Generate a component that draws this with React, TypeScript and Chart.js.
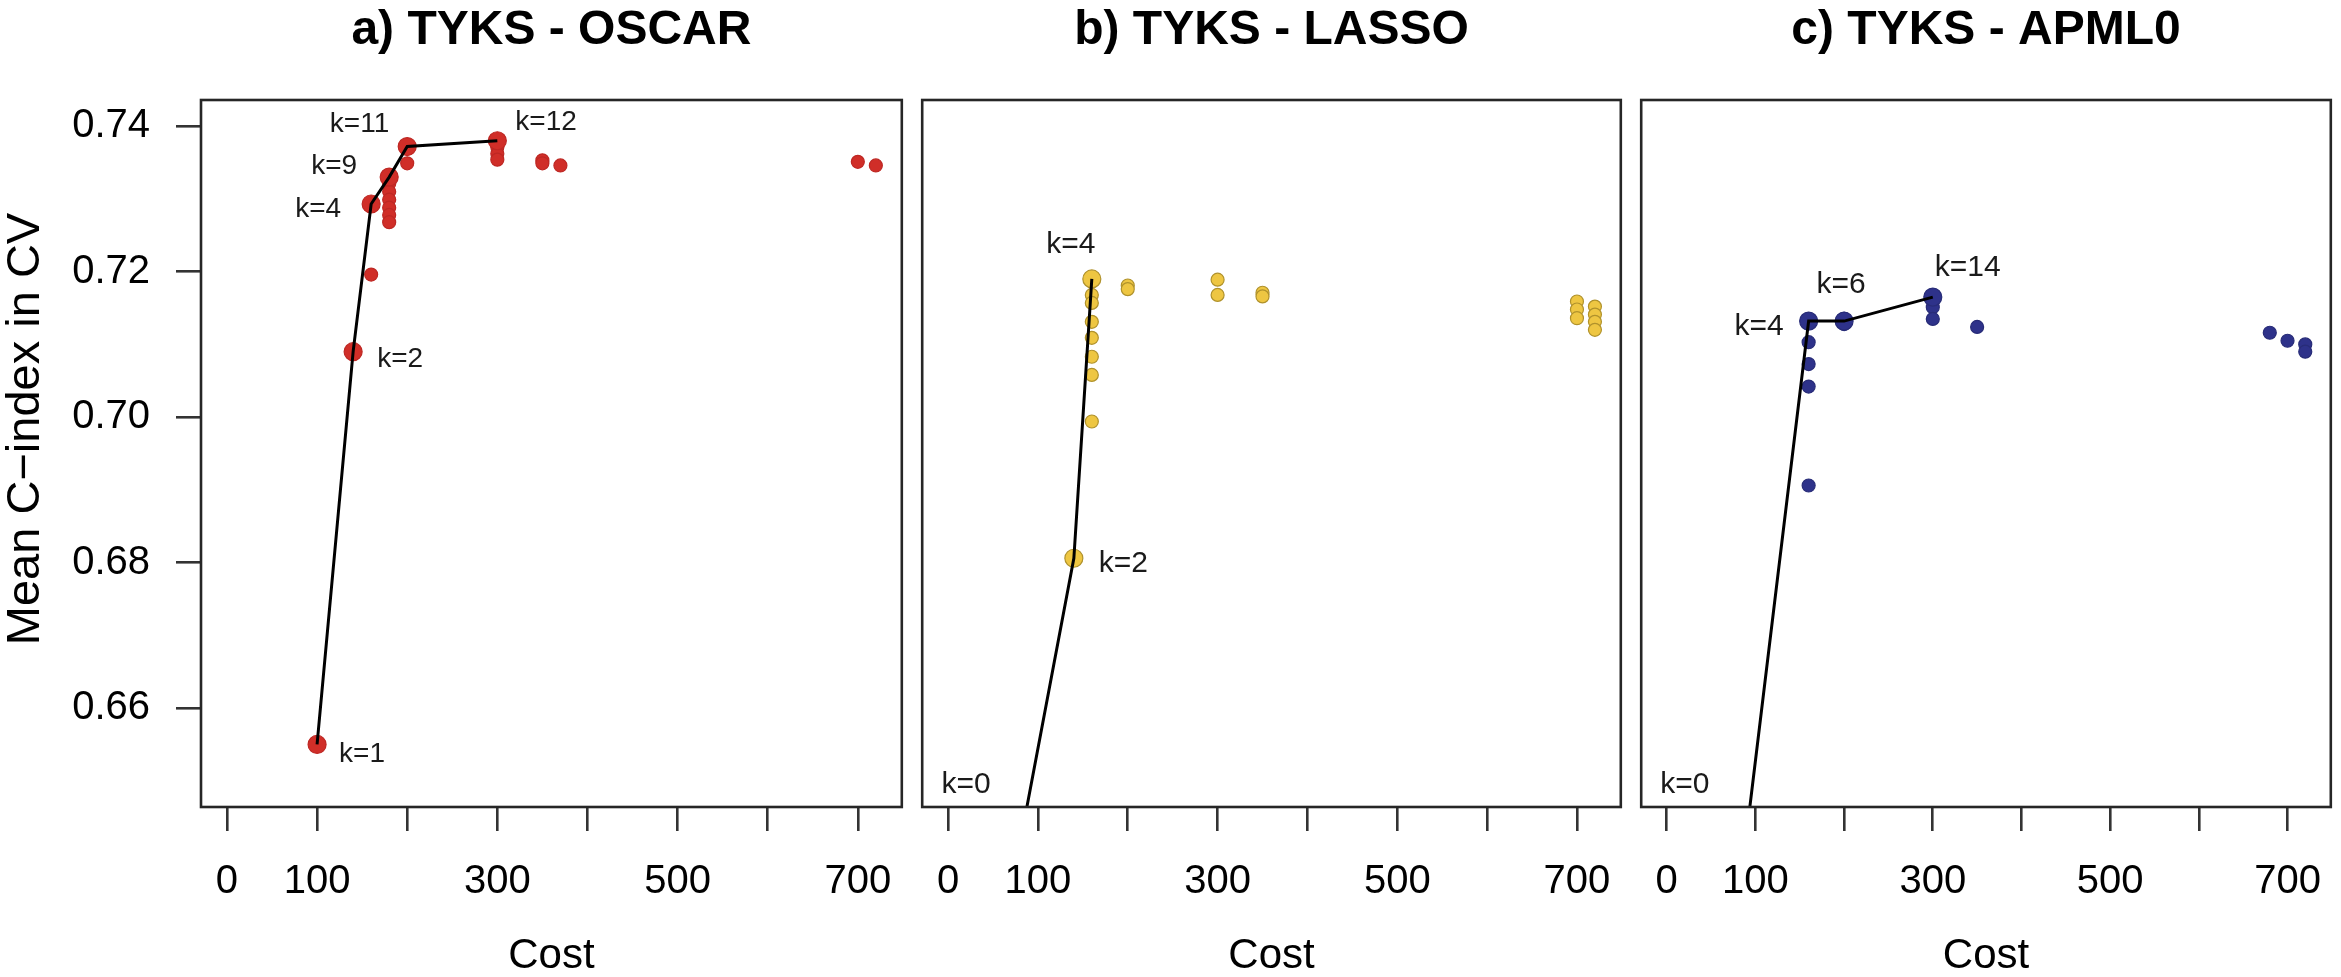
import React, { useEffect, useRef } from 'react';
import { Chart, registerables } from 'chart.js';

Chart.register(...registerables);

// ---------- data ----------
const panelTitles = ['a) TYKS - OSCAR', 'b) TYKS - LASSO', 'c) TYKS - APML0'];
const xTitle = 'Cost';
const yTitle = 'Mean C\u2212index in CV';

const xTickValues = [0, 100, 200, 300, 400, 500, 600, 700];
const xTickLabels = ['0', '100', '', '300', '', '500', '', '700'];
const yTickValues = [0.66, 0.68, 0.7, 0.72, 0.74];

// axis limits: R's 4% extension of x in [0, 720], y in [0.65, 0.74]
const xLimits = [-28.8, 748.8];
const yLimits = [0.6464, 0.7436];

// a) OSCAR
const oscarCost = [100, 140, 160, 160, 180, 180, 180, 180, 180, 180, 180, 200, 200, 300, 300, 300, 300, 350, 350, 370, 700, 720];
const oscarCindex = [0.655, 0.709, 0.7293, 0.7196, 0.733, 0.7321, 0.731, 0.7299, 0.7288, 0.7278, 0.7268, 0.7372, 0.7349, 0.738, 0.7371, 0.7362, 0.7354, 0.7353, 0.7349, 0.7346, 0.7351, 0.7346];
const oscarParetoCost = [100, 140, 160, 180, 200, 300];
const oscarParetoCindex = [0.655, 0.709, 0.7293, 0.733, 0.7372, 0.738];
const oscarLabels = ['k=1', 'k=2', 'k=4', 'k=9', 'k=11', 'k=12'];
const oscarLabelCost = [100, 140, 160, 180, 200, 300];
const oscarLabelCindex = [0.655, 0.709, 0.7293, 0.733, 0.7372, 0.738];

// b) LASSO
const lassoCost = [140, 160, 160, 160, 160, 160, 160, 160, 160, 200, 200, 300, 300, 350, 350, 700, 700, 700, 720, 720, 720, 720];
const lassoCindex = [0.6806, 0.719, 0.7168, 0.7157, 0.7131, 0.7109, 0.7083, 0.7058, 0.6994, 0.7181, 0.7176, 0.7189, 0.7168, 0.7171, 0.7166, 0.7159, 0.7148, 0.7136, 0.7152, 0.7141, 0.7131, 0.712];
const lassoParetoCost = [0, 140, 160];
const lassoParetoCindex = [0.589, 0.6806, 0.719];
const lassoLabels = ['k=0', 'k=2', 'k=4'];
const lassoLabelCost = [0, 140, 160];
const lassoLabelCindex = [0.65, 0.6806, 0.719];

// c) APML0
const apmlCost = [160, 160, 160, 160, 160, 200, 200, 300, 300, 300, 350, 680, 700, 720, 720];
const apmlCindex = [0.7132, 0.7103, 0.7073, 0.7042, 0.6906, 0.7135, 0.7128, 0.7165, 0.7151, 0.7135, 0.7124, 0.7116, 0.7105, 0.71, 0.709];
const apmlParetoCost = [0, 160, 200, 300];
const apmlParetoCindex = [0.552, 0.7132, 0.7132, 0.7165];
const apmlLabels = ['k=0', 'k=4', 'k=6', 'k=14'];
const apmlLabelCost = [0, 160, 200, 300];
const apmlLabelCindex = [0.65, 0.7132, 0.7132, 0.7165];

// ---------- styles / layout ----------
const FONT = "'Liberation Sans', Arial, Helvetica, sans-serif";
const H = 977;

type Place = { align: CanvasTextAlign; dx: number; dy: number };

const oscarPlace: Place[] = [
  { align: 'left', dx: 22, dy: 10 },
  { align: 'left', dx: 24, dy: 8 },
  { align: 'right', dx: -30, dy: 5 },
  { align: 'right', dx: -32, dy: -11 },
  { align: 'right', dx: -18, dy: -22 },
  { align: 'left', dx: 18, dy: -18 },
];
const lassoPlace: Place[] = [
  { align: 'center', dx: 18, dy: 4 },
  { align: 'left', dx: 25, dy: 5 },
  { align: 'center', dx: -21, dy: -34 },
];
const apmlPlace: Place[] = [
  { align: 'center', dx: 18, dy: 4 },
  { align: 'right', dx: -25, dy: 6 },
  { align: 'center', dx: -3, dy: -36 },
  { align: 'center', dx: 35, dy: -29 },
];

type Panel = {
  title: string;
  cost: number[];
  cindex: number[];
  pCost: number[];
  pCindex: number[];
  labels: string[];
  lCost: number[];
  lCindex: number[];
  place: Place[];
  fill: string;
  border: string;
  labelSize: number;
  showY: boolean;
  left: number;
  width: number;
  padL: number;
  padR: number;
};

const panels: Panel[] = [
  {
    title: panelTitles[0], cost: oscarCost, cindex: oscarCindex, pCost: oscarParetoCost, pCindex: oscarParetoCindex,
    labels: oscarLabels, lCost: oscarLabelCost, lCindex: oscarLabelCindex, place: oscarPlace,
    fill: 'rgb(208,46,40)', border: 'rgb(190,40,36)', labelSize: 28, showY: true,
    left: 0, width: 912, padL: 0, padR: 5,
  },
  {
    title: panelTitles[1], cost: lassoCost, cindex: lassoCindex, pCost: lassoParetoCost, pCindex: lassoParetoCindex,
    labels: lassoLabels, lCost: lassoLabelCost, lCindex: lassoLabelCindex, place: lassoPlace,
    fill: 'rgb(238,198,66)', border: 'rgb(176,146,44)', labelSize: 30, showY: false,
    left: 912, width: 719, padL: 6.4, padR: 5.4,
  },
  {
    title: panelTitles[2], cost: apmlCost, cindex: apmlCindex, pCost: apmlParetoCost, pCindex: apmlParetoCindex,
    labels: apmlLabels, lCost: apmlLabelCost, lCindex: apmlLabelCindex, place: apmlPlace,
    fill: 'rgb(46,50,138)', border: 'rgb(40,44,120)', labelSize: 30, showY: false,
    left: 1631, width: 710, padL: 5.7, padR: 0.5,
  },
];

function PanelChart({ p }: { p: Panel }) {
  const ref = useRef<HTMLCanvasElement | null>(null);
  useEffect(() => {
    if (!ref.current) return;
    const small = p.cost.map((c, i) => ({ x: c, y: p.cindex[i] }));
    const path = p.pCost.map((c, i) => ({ x: c, y: p.pCindex[i] }));
    const deco = {
      id: 'deco' + p.title,
      afterDatasetsDraw(chart: any) {
        const { ctx, chartArea: a, scales } = chart;
        ctx.save();
        ctx.strokeStyle = '#262626';
        ctx.lineWidth = 2.6;
        ctx.strokeRect(a.left, a.top, a.right - a.left, a.bottom - a.top);
        ctx.fillStyle = '#1a1a1a';
        ctx.font = `${p.labelSize}px ${FONT}`;
        ctx.textBaseline = 'middle';
        p.labels.forEach((t, i) => {
          const pl = p.place[i];
          const px = scales.x.getPixelForValue(p.lCost[i]);
          const py = scales.y.getPixelForValue(p.lCindex[i]);
          ctx.textAlign = pl.align;
          ctx.fillText(t, px + pl.dx, py + pl.dy);
        });
        ctx.fillStyle = '#000';
        ctx.font = `bold 48px ${FONT}`;
        ctx.textAlign = 'center';
        ctx.fillText(p.title, (a.left + a.right) / 2, 31);
        if (p.showY) {
          ctx.save();
          ctx.translate(26, 429);
          ctx.rotate(-Math.PI / 2);
          ctx.font = `47px ${FONT}`;
          ctx.fillText(yTitle, 0, 0);
          ctx.restore();
        }
        ctx.restore();
      },
    };
    const chart = new Chart(ref.current, {
      type: 'scatter',
      data: {
        datasets: [
          {
            data: path, showLine: true, borderColor: '#000', borderWidth: 3,
            pointRadius: 0, order: 0,
          } as any,
          {
            data: path, pointRadius: 9, pointBackgroundColor: p.fill, pointBorderColor: p.border,
            pointBorderWidth: 1.2, order: 1,
          },
          {
            data: small, pointRadius: 6.5, pointBackgroundColor: p.fill, pointBorderColor: p.border,
            pointBorderWidth: 1.2, order: 2,
          },
        ],
      },
      options: {
        animation: false,
        responsive: false,
        events: [],
        layout: { padding: { left: p.padL, right: p.padR, top: 100, bottom: 0 } },
        plugins: { legend: { display: false }, tooltip: { enabled: false }, title: { display: false } },
        scales: {
          x: {
            type: 'linear',
            position: 'bottom',
            min: xLimits[0],
            max: xLimits[1],
            afterBuildTicks: (s: any) => { s.ticks = xTickValues.map((v) => ({ value: v })); },
            afterFit: (s: any) => { s.height = 170; s.paddingLeft = 0; s.paddingRight = 0; },
            ticks: {
              autoSkip: false, maxRotation: 0, minRotation: 0, padding: 27,
              color: '#000', font: { family: FONT, size: 40 },
              callback: (v: any) => { const i = xTickValues.indexOf(Number(v)); return i >= 0 ? xTickLabels[i] : ''; },
            },
            grid: { drawOnChartArea: false, drawTicks: true, tickLength: 24, color: '#333', lineWidth: 2.6 },
            border: { display: false },
            title: { display: true, text: xTitle, color: '#000', font: { family: FONT, size: 42, lineHeight: 1 }, padding: { top: 0, bottom: 0 } },
          },
          y: {
            type: 'linear',
            position: 'left',
            display: p.showY,
            min: yLimits[0],
            max: yLimits[1],
            afterBuildTicks: (s: any) => { s.ticks = yTickValues.map((v) => ({ value: v })); },
            afterFit: (s: any) => { s.width = p.showY ? 201 : 0; s.paddingTop = 0; s.paddingBottom = 0; },
            ticks: {
              autoSkip: false, padding: 26, color: '#000', font: { family: FONT, size: 40 },
              callback: (v: any) => Number(v).toFixed(2),
            },
            grid: { drawOnChartArea: false, drawTicks: true, tickLength: 25, color: '#333', lineWidth: 2.6 },
            border: { display: false },
            title: { display: false },
          },
        },
      },
      plugins: [deco],
    });
    return () => chart.destroy();
  }, [p]);
  return (
    <canvas
      ref={ref}
      width={p.width}
      height={H}
      style={{ position: 'absolute', left: p.left, top: 0, width: p.width, height: H }}
    />
  );
}

export default function App() {
  return (
    <div style={{ position: 'fixed', left: 0, top: 0, width: 2341, height: H, background: '#fff', overflow: 'hidden' }}>
      {panels.map((p) => (
        <PanelChart key={p.title} p={p} />
      ))}
    </div>
  );
}
